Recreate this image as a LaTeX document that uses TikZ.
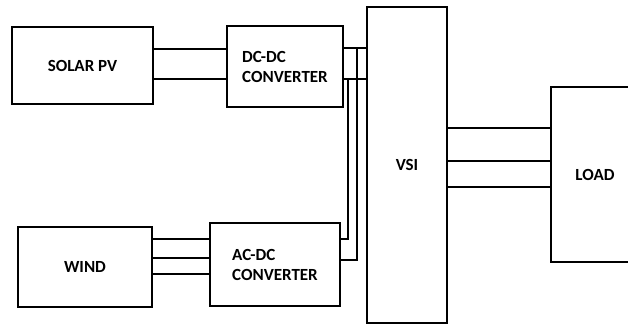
\documentclass[tikz,border=0pt]{standalone}
\usepackage{fontspec}
\setmainfont{Carlito}
\usetikzlibrary{positioning, calc}

\begin{document}
\begin{tikzpicture}[x=1pt, y=-1pt, line width=2.6pt,
  blk/.style={draw,rectangle,line width=2.6pt,align=left,inner sep=0pt,font=\fontsize{17}{20}\selectfont\bfseries}]
  \clip (0,0) rectangle (628,326);
  \node[blk,minimum width=141pt,minimum height=77pt] (solar) at (82.5,65.5) {SOLAR PV};
  \node[blk,minimum width=116pt,minimum height=81pt] (dcdc) at (285,66.5) {DC-DC\\CONVERTER};
  \node[blk,minimum width=134pt,minimum height=80pt] (wind) at (85,267) {WIND};
  \node[blk,minimum width=130pt,minimum height=83pt] (acdc) at (275,264.5) {AC-DC\\CONVERTER};
  \node[blk,minimum width=80pt,minimum height=316pt] (vsi) at (407,165) {VSI};
  \node[blk,minimum width=88pt,minimum height=175pt] (load) at (595,174.5) {LOAD};
  % junctions on the dc-dc output lines
  \coordinate (j1) at (348,79);
  \coordinate (j2) at (357,48);
  \draw (solar.east |- 0,49) -- (dcdc.west |- 0,49);
  \draw (solar.east |- 0,79) -- (dcdc.west |- 0,79);
  \draw (dcdc.east |- 0,48) -- (vsi.west |- 0,48);
  \draw (dcdc.east |- 0,79) -- (vsi.west |- 0,79);
  \draw (j1) |- (acdc.east |- 0,239);
  \draw (j2) |- (acdc.east |- 0,260);
  \draw (wind.east |- 0,239) -- (acdc.west |- 0,239);
  \draw (wind.east |- 0,258) -- (acdc.west |- 0,258);
  \draw (wind.east |- 0,274) -- (acdc.west |- 0,274);
  \draw (vsi.east |- 0,128) -- (load.west |- 0,128);
  \draw (vsi.east |- 0,161) -- (load.west |- 0,161);
  \draw (vsi.east |- 0,187) -- (load.west |- 0,187);
\end{tikzpicture}
\end{document}
